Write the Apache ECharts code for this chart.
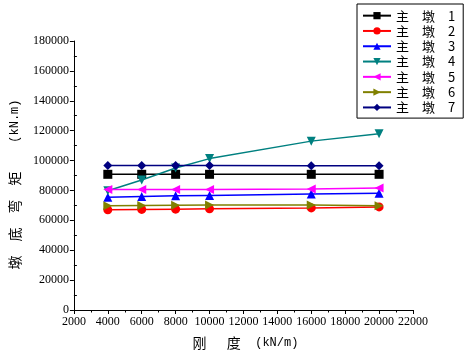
<!DOCTYPE html>
<html><head><meta charset="utf-8">
<script src="https://cdn.jsdelivr.net/npm/echarts@6/dist/echarts.min.js"></script>
<style>html,body{margin:0;padding:0;background:#fff}#c{width:469px;height:355px}</style>
</head><body><div id="c"></div>
<script>
const xValues = [4000, 6000, 8000, 10000, 16000, 20000];
const seriesNames = ['主　墩　1', '主　墩　2', '主　墩　3', '主　墩　4', '主　墩　5', '主　墩　6', '主　墩　7'];
const pier1 = [90800, 90800, 90800, 90800, 90800, 90800];
const pier2 = [67000, 67300, 67500, 67700, 68300, 69000];
const pier3 = [75400, 76000, 76400, 76700, 77700, 78100];
const pier4 = [79800, 87000, 95000, 101300, 113000, 118000];
const pier5 = [80600, 80600, 80600, 80700, 81000, 81600];
const pier6 = [69800, 70000, 70100, 70200, 70300, 69800];
const pier7 = [96700, 96700, 96700, 96700, 96600, 96600];
const allData = [pier1, pier2, pier3, pier4, pier5, pier6, pier7];
const colors = ['#000000', '#ff0000', '#0000ff', '#008080', '#ff00ff', '#808000', '#000080'];
const symbols = ['rect', 'circle', 'triangle', 'triangle', 'triangle', 'triangle', 'diamond'];
const rotations = [0, 0, 0, 180, 90, -90, 0];

const serif = 'Liberation Serif, Times New Roman, serif';
const cjk = 'Noto Sans CJK SC';

const series = allData.map((d, i) => ({
  name: seriesNames[i],
  type: 'line',
  data: d.map((v, j) => [xValues[j], v]),
  symbol: symbols[i],
  symbolRotate: rotations[i],
  symbolSize: 9,
  showAllSymbol: true,
  color: colors[i],
  lineStyle: { color: colors[i], width: 1.5 },
  itemStyle: { color: colors[i] },
  z: 3 + i
}));

const plain = v => String(v);

const chart = echarts.init(document.getElementById('c'), null, { renderer: 'canvas' });
chart.setOption({
  animation: false,
  backgroundColor: '#fff',
  grid: { left: 73, top: 41, width: 340, height: 270 },
  legend: {
    left: 357, top: 4,
    orient: 'vertical',
    borderColor: '#000', borderWidth: 1,
    padding: [4, 8, 3, 5],
    itemWidth: 28, itemHeight: 9, itemGap: 0,
    textStyle: { fontFamily: cjk, fontSize: 13, lineHeight: 15.3, color: '#000' },
    data: seriesNames
  },
  xAxis: [{
    type: 'value', min: 2000, max: 22000, interval: 2000,
    name: '{c|刚　  度}{e|  (kN/m)}',
    nameLocation: 'middle', nameGap: 26,
    nameTextStyle: {
      padding: [0, 0, 0, 4],
      rich: {
        c: { fontFamily: cjk, fontSize: 14, color: '#000' },
        e: { fontFamily: 'Liberation Mono', fontSize: 12, color: '#000' }
      }
    },
    axisLine: { onZero: false, lineStyle: { color: '#000', width: 1 } },
    axisTick: { show: true, length: 4, lineStyle: { color: '#000' } },
    minorTick: { show: true, splitNumber: 2, length: 2.5, lineStyle: { color: '#000' } },
    axisLabel: { fontFamily: serif, fontSize: 12, color: '#000', margin: 6, formatter: plain },
    splitLine: { show: false }
  }],
  yAxis: [{
    type: 'value', min: 0, max: 180000, interval: 20000,
    name: '{c|墩　底　弯　矩}{e|    (kN.m)}',
    nameLocation: 'middle', nameGap: 48, nameRotate: 90,
    nameTextStyle: {
      padding: [0, 18, 0, 0],
      rich: {
        c: { fontFamily: cjk, fontSize: 14, color: '#000' },
        e: { fontFamily: 'Liberation Mono', fontSize: 12, color: '#000' }
      }
    },
    axisLine: { show: true, onZero: false, lineStyle: { color: '#000', width: 1 } },
    axisTick: { show: true, length: 4, lineStyle: { color: '#000' } },
    axisLabel: { fontFamily: serif, fontSize: 12, color: '#000', margin: 5, formatter: plain },
    splitLine: { show: false }
  }, {
    type: 'value', min: 0, max: 180000, interval: 20000, position: 'left',
    axisLine: { show: false },
    axisTick: { show: false, inside: true },
    minorTick: { show: true, splitNumber: 2, length: 3, lineStyle: { color: '#000' } },
    axisLabel: { show: false },
    splitLine: { show: false }
  }],
  series: series
});
</script></body></html>
